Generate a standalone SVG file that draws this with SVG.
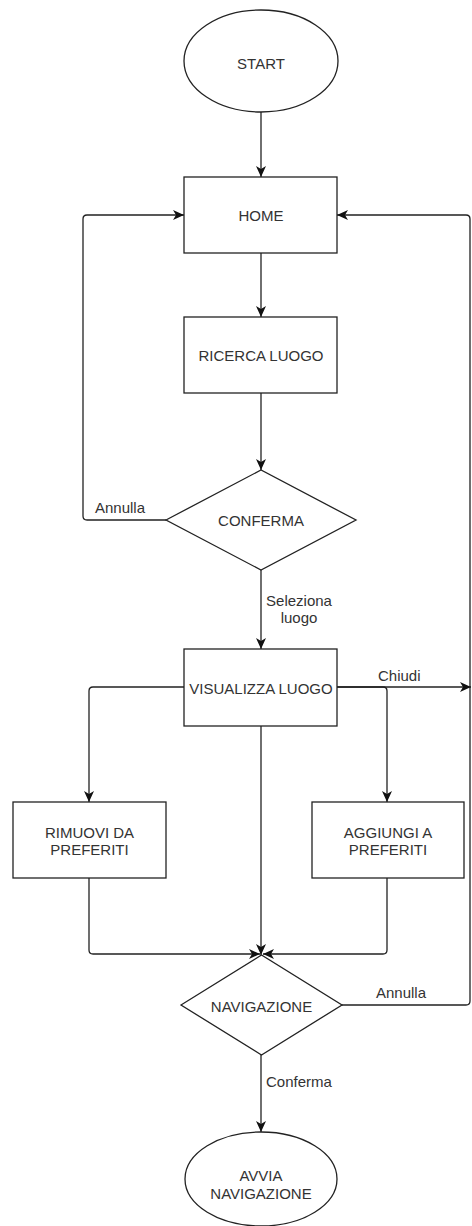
<svg xmlns="http://www.w3.org/2000/svg" width="472" height="1226" viewBox="0 0 472 1226">
<style>
.s{fill:#fff;stroke:#222;stroke-width:1.3}
.c{fill:none;stroke:#222;stroke-width:1.3}
text{font-family:"Liberation Sans",Arial,sans-serif;font-size:15px;fill:#333}
.m{text-anchor:middle}
</style>
<defs>
<marker id="a" markerUnits="userSpaceOnUse" markerWidth="12" markerHeight="12" refX="11" refY="5" orient="auto">
<path d="M0,0 L11,5 L0,10 L3,5 Z" fill="#111"/>
</marker>
</defs>
<rect width="472" height="1226" fill="#fff"/>
<g id="connectors">
<path class="c" d="M261,112 L261,177" marker-end="url(#a)"/>
<path class="c" d="M261,253 L261,317" marker-end="url(#a)"/>
<path class="c" d="M261,393 L261,470" marker-end="url(#a)"/>
<path class="c" d="M166,520 L87,520 Q83,520 83,516 L83,219 Q83,215 87,215 L184,215" marker-end="url(#a)"/>
<path class="c" d="M261,570 L261,649" marker-end="url(#a)"/>
<path class="c" d="M184,687 L93,687 Q89,687 89,691 L89,802" marker-end="url(#a)"/>
<path class="c" d="M337,687 L383,687 Q387,687 387,691 L387,802" marker-end="url(#a)"/>
<path class="c" d="M337,687 L471,687" marker-end="url(#a)"/>
<path class="c" d="M261,726 L261,955" marker-end="url(#a)"/>
<path class="c" d="M89,878 L89,950 Q89,954 93,954 L260,954" marker-end="url(#a)"/>
<path class="c" d="M387,878 L387,950 Q387,954 383,954 L263,954" marker-end="url(#a)"/>
<path class="c" d="M342,1005 L466,1005 Q470,1005 470,1001 L470,219 Q470,215 466,215 L337,215" marker-end="url(#a)"/>
<path class="c" d="M261,1055 L261,1132" marker-end="url(#a)"/>
<text x="95" y="513">Annulla</text>
<text class="m" x="299" y="606">Seleziona</text>
<text class="m" x="299" y="623">luogo</text>
<text x="378" y="681">Chiudi</text>
<text x="376" y="998">Annulla</text>
<text x="266" y="1087">Conferma</text>
</g>
<g id="start">
<ellipse class="s" cx="261" cy="61" rx="77" ry="51"/>
<text class="m" x="261" y="69">START</text>
</g>
<g id="home">
<rect class="s" x="184" y="177" width="153" height="76"/>
<text class="m" x="261" y="221">HOME</text>
</g>
<g id="ricerca">
<rect class="s" x="184" y="317" width="153" height="76"/>
<text class="m" x="261" y="361">RICERCA LUOGO</text>
</g>
<g id="conferma">
<polygon class="s" points="166,520 261,470 356,520 261,570"/>
<text class="m" x="261" y="526">CONFERMA</text>
</g>
<g id="visualizza">
<rect class="s" x="184" y="649" width="153" height="77"/>
<text class="m" x="261" y="694">VISUALIZZA LUOGO</text>
</g>
<g id="rimuovi">
<rect class="s" x="13" y="802" width="153" height="76"/>
<text class="m" x="89.5" y="838">RIMUOVI DA</text>
<text class="m" x="89.5" y="855">PREFERITI</text>
</g>
<g id="aggiungi">
<rect class="s" x="312" y="802" width="152" height="76"/>
<text class="m" x="388" y="838">AGGIUNGI A</text>
<text class="m" x="388" y="855">PREFERITI</text>
</g>
<g id="navigazione">
<polygon class="s" points="181,1005 261.5,955 342,1005 261.5,1055"/>
<text class="m" x="261.5" y="1012">NAVIGAZIONE</text>
</g>
<g id="avvia">
<ellipse class="s" cx="261" cy="1179" rx="76" ry="47"/>
<text class="m" x="261" y="1181">AVVIA</text>
<text class="m" x="261" y="1199">NAVIGAZIONE</text>
</g>
</svg>
